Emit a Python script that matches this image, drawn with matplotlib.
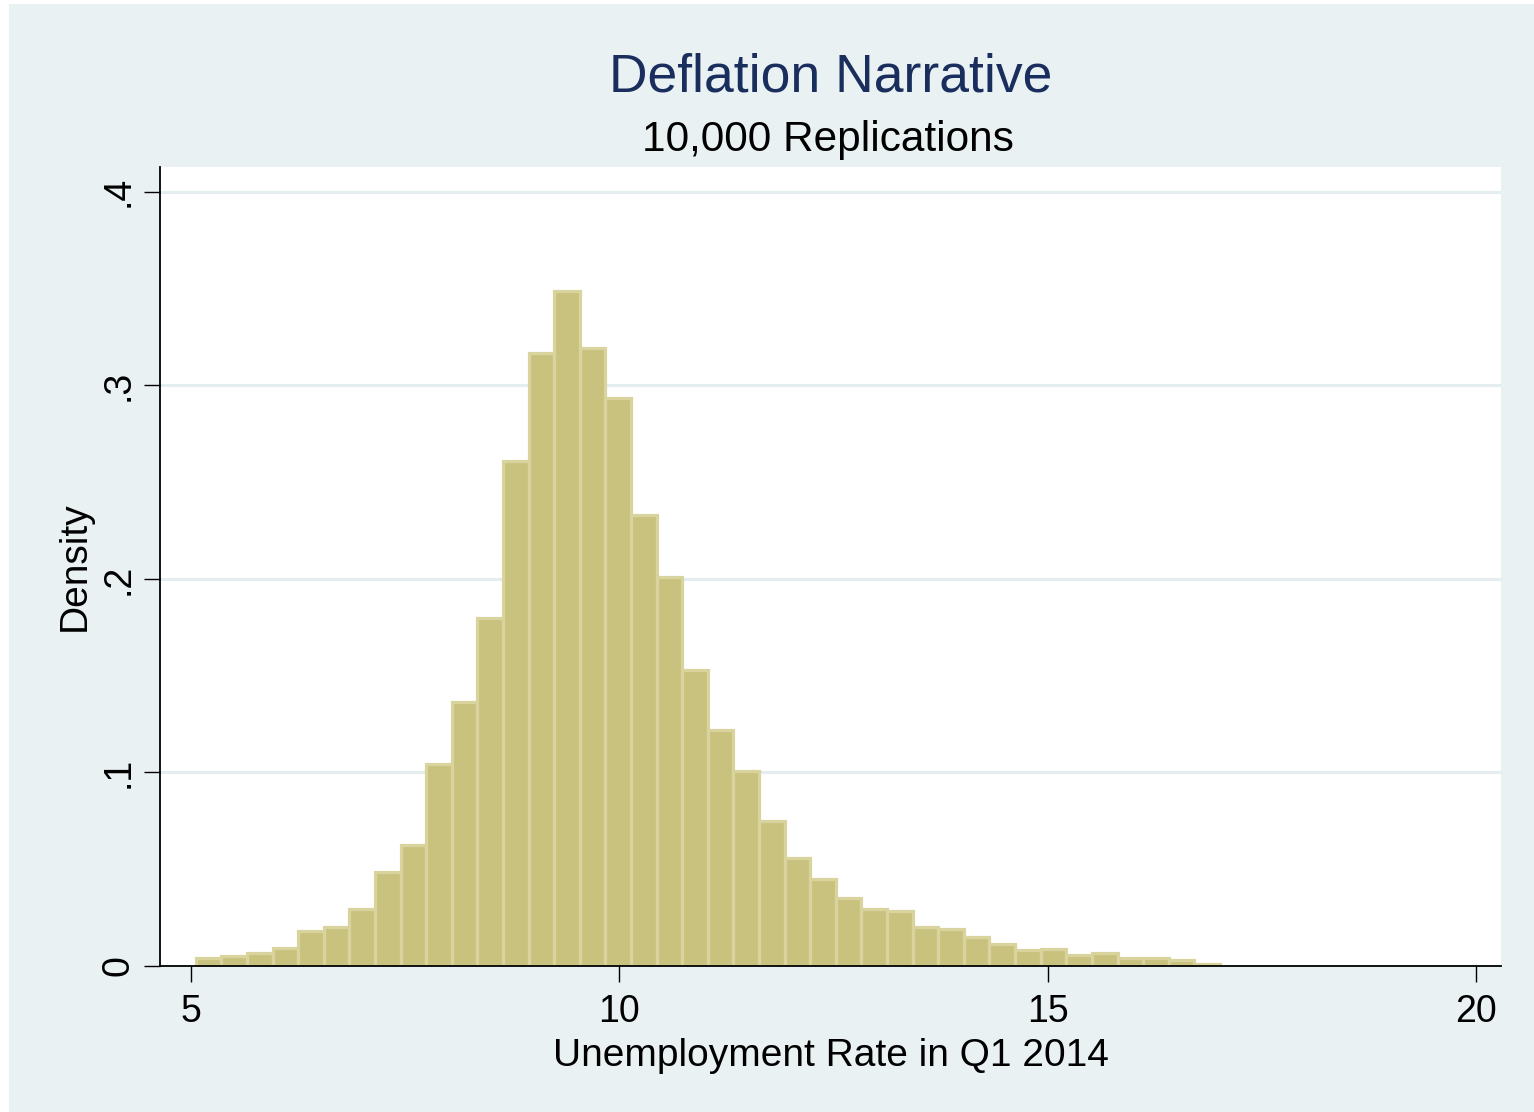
import numpy as np
import matplotlib
matplotlib.use("Agg")
import matplotlib.pyplot as plt
from matplotlib.patches import Rectangle

plt.rcParams['font.family'] = ['Liberation Sans', 'DejaVu Sans']

# Histogram of simulated unemployment rates (density scale), 40 equal-width bins
bin_low = 5.055
bin_high = 17.011
density = [0.0042, 0.0052, 0.0068, 0.0095, 0.0182, 0.0200, 0.0292, 0.0488,
           0.0626, 0.1044, 0.1366, 0.1800, 0.2611, 0.3169, 0.3489, 0.3192,
           0.2932, 0.2330, 0.2012, 0.1530, 0.1221, 0.1009, 0.0751, 0.0560,
           0.0447, 0.0350, 0.0297, 0.0285, 0.0199, 0.0193, 0.0150, 0.0115,
           0.0085, 0.0090, 0.0059, 0.0068, 0.0042, 0.0042, 0.0032, 0.0009]
x_ticks = [5, 10, 15, 20]
x_tick_labels = ["5", "10", "15", "20"]
y_ticks = [0, 0.1, 0.2, 0.3, 0.4]
y_tick_labels = ["0", ".1", ".2", ".3", ".4"]

title = "Deflation Narrative"
subtitle = "10,000 Replications"
x_title = "Unemployment Rate in Q1 2014"
y_title = "Density"

W, H = 1534, 1112
fig = plt.figure(figsize=(W / 100, H / 100), dpi=100, facecolor="white")
bg = "#E9F1F3"
fig.patches.append(Rectangle((9 / W, 0), 1 - 9 / W, 1 - 4 / H,
                             transform=fig.transFigure, facecolor=bg,
                             edgecolor="none", zorder=-10))

left, right, bottom, top = 160 / W, 1501 / W, 1 - 966 / H, 1 - 167 / H
ax = fig.add_axes([left, bottom, right - left, top - bottom])
ax.set_facecolor("white")

edges = np.linspace(bin_low, bin_high, len(density) + 1)
width = edges[1] - edges[0]
ax.bar(edges[:-1], density, width=width, align="edge",
       color="#C9C27E", edgecolor="#D9D49D", linewidth=2.3, zorder=2)

ax.set_xlim(4.638, 20.292)
ax.set_ylim(0, 0.4128)

ax.set_xticks(x_ticks)
ax.set_xticklabels(x_tick_labels)
ax.set_yticks(y_ticks)
ax.set_yticklabels(y_tick_labels)

ax.yaxis.grid(True, color="#E4EDEF", linewidth=2.2, zorder=0)
ax.set_axisbelow(True)

for side in ("top", "right"):
    ax.spines[side].set_visible(False)
for side in ("left", "bottom"):
    ax.spines[side].set_linewidth(1.3)
    ax.spines[side].set_zorder(5)

ax.tick_params(axis="both", direction="out", length=11.5, width=1.0,
               color="black", labelsize=27)
ax.tick_params(axis="x", pad=9)
ax.tick_params(axis="y", pad=5.5)
for lab in ax.get_yticklabels():
    lab.set_rotation(90)
    lab.set_ha("right")
    lab.set_va("center")

cx = (left + right) / 2
fig.text(cx, 1 - 92 / H, title, ha="center", va="baseline",
         fontsize=38.5, color="#1A2E5E")
fig.text(cx - 3 / W, 1 - 151 / H, subtitle, ha="center", va="baseline",
         fontsize=30.5, color="black")
fig.text(cx, 1 - 1066 / H, x_title, ha="center", va="baseline",
         fontsize=28, color="black")
fig.text(85 / W, (bottom + top) / 2, y_title, rotation=90,
         rotation_mode="anchor", ha="center", va="baseline",
         fontsize=28, color="black")

fig.savefig("out.png", dpi=100, facecolor=fig.get_facecolor())
